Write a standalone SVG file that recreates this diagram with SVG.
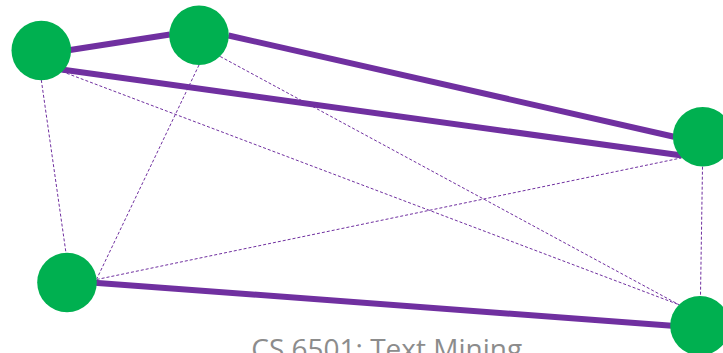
<svg xmlns="http://www.w3.org/2000/svg" width="723" height="353" viewBox="0 0 723 353">
<style>
.strong{stroke:#7030A0;stroke-width:6;fill:none}
.weak{stroke:#7030A0;stroke-width:1;stroke-dasharray:3 2;fill:none}
.node{fill:#00B050}
.title{font-family:"Open Sans","Noto Sans","Liberation Sans",sans-serif;font-size:28px;fill:#8c8c8c}
</style>
<rect width="723" height="353" fill="#ffffff"/>
<g id="connectors">
<line class="weak" x1="41.3" y1="80" x2="66" y2="253"/>
<line class="weak" x1="199" y1="65" x2="96.7" y2="279"/>
<line class="weak" x1="96.7" y1="279.5" x2="681" y2="158"/>
<line class="weak" x1="62" y1="71.5" x2="679" y2="304.7"/>
<line class="weak" x1="220.2" y1="56.5" x2="679" y2="304.7"/>
<line class="weak" x1="702.5" y1="166.7" x2="700.5" y2="295.7"/>
<line class="strong" x1="70" y1="50" x2="170" y2="34.5"/>
<line class="strong" x1="228.5" y1="35.5" x2="674" y2="136.7"/>
<line class="strong" x1="61.5" y1="69.5" x2="682" y2="155.5"/>
<line class="strong" x1="94.5" y1="282.7" x2="672" y2="325.7"/>
</g>
<g id="node-a"><circle class="node" cx="41.3" cy="50.5" r="29.8"/></g>
<g id="node-b"><circle class="node" cx="199" cy="35.3" r="29.8"/></g>
<g id="node-c"><circle class="node" cx="702.7" cy="136.7" r="29.8"/></g>
<g id="node-d"><circle class="node" cx="67" cy="282.5" r="29.8"/></g>
<g id="node-e"><circle class="node" cx="700" cy="325.7" r="29.8"/></g>
<text class="title" x="386.7" y="359" text-anchor="middle">CS 6501: Text Mining</text>
</svg>
